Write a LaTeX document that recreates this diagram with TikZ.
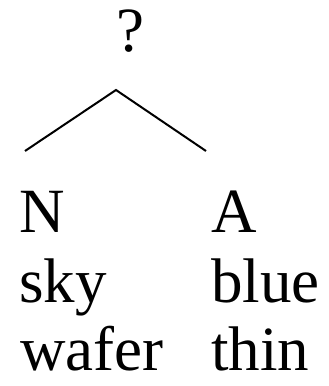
\documentclass[tikz,border=0pt]{standalone}
\usepackage{fontspec}
\setmainfont{Liberation Serif}
\begin{document}
\begin{tikzpicture}[x=1pt,y=1pt,
  word/.style={inner sep=0pt, anchor=base west, font=\fontsize{63}{63}\selectfont},
  branch/.style={line width=2pt}]
\useasboundingbox (0,0) rectangle (329,386);
\node[word, anchor=base] (q) at (130,334) {?};
\coordinate (apex) at (116,296);
\coordinate (lend) at (25,235);
\coordinate (rend) at (206,235);
\draw[branch] (lend) -- (apex) -- (rend);
\node[word] (n) at (19,153) {N};
\node[word] (a) at (211,153) {A};
\node[word] (sky) at (19,83) {sky};
\node[word] (blue) at (211,83) {blue};
\node[word] (wafer) at (20,16) {wafer};
\node[word] (thin) at (211,16) {thin};
\end{tikzpicture}
\end{document}
